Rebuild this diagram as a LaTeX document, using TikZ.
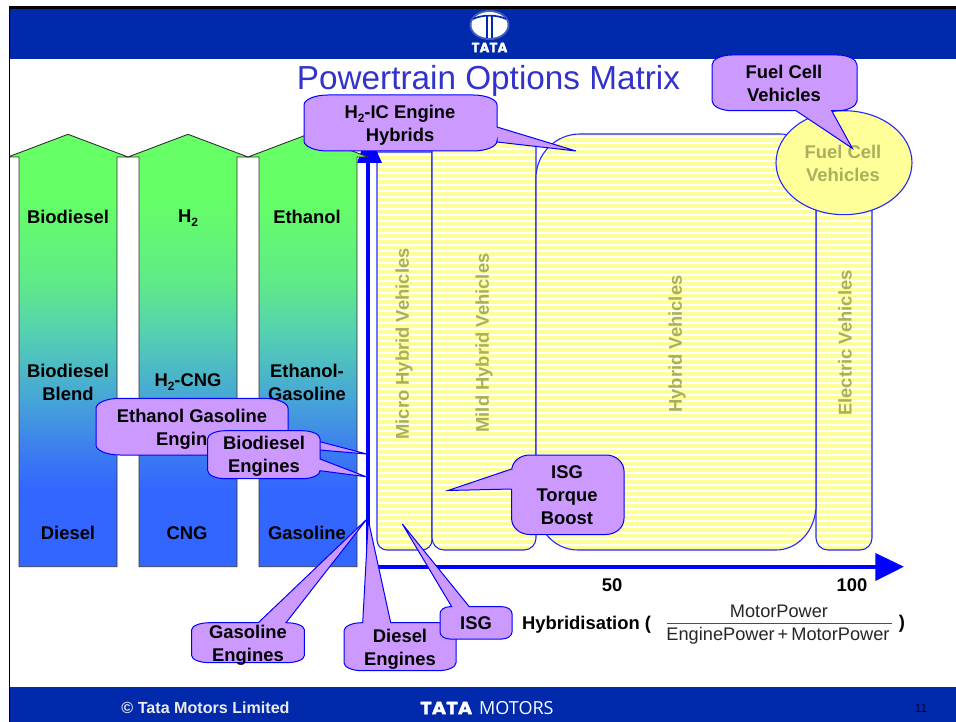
\documentclass[tikz,border=0pt]{standalone}
\usepackage{fontspec}
\setmainfont{Liberation Sans}
\newfontfamily\logofont[BoldFeatures={FakeBold=1.5}]{Poppins}
\newfontfamily\motorsfont{Open Sans}
\usetikzlibrary{shapes.geometric}
\definecolor{tatablue}{RGB}{0,41,172}
\definecolor{yel}{RGB}{255,255,153}
\definecolor{lil}{RGB}{204,153,255}
\definecolor{olive}{RGB}{168,176,92}
\definecolor{titleblue}{RGB}{51,51,204}
\definecolor{axisblue}{RGB}{0,0,255}
\definecolor{gA}{RGB}{102,255,102}
\definecolor{gB}{RGB}{51,102,255}
\definecolor{gC}{RGB}{95,235,135}
\definecolor{gD}{RGB}{85,210,175}
\definecolor{gE}{RGB}{70,165,215}
\definecolor{gF}{RGB}{60,125,240}
\pgfdeclareverticalshading{fuelgrad}{100bp}{color(0bp)=(gB); color(33.9bp)=(gB); color(38.5bp)=(gF); color(44.3bp)=(gE); color(52.4bp)=(gD); color(58.1bp)=(gC); color(67.7bp)=(gA); color(100bp)=(gA)}
\newcommand\subtwo{\raisebox{-4.5pt}{\fontsize{12}{12}\selectfont 2}}
\tikzset{
  x=1pt,y=-1pt,
  bub/.style={draw=axisblue,line width=1pt,fill=lil,line join=miter},
  lab/.style={font=\fontsize{18.4}{23}\selectfont\bfseries,align=center,inner sep=0pt},
  plain/.style={font=\fontsize{18.2}{23}\selectfont,align=center,inner sep=0pt,text=black!85},
  soft/.style={lab,text=olive},
  fuel/.style={shading=fuelgrad,draw=black!80,line width=.9pt},
  zone/.style={draw=axisblue!85!white,line width=1.1pt},
}
\newcommand\bubble[9]{%
  \draw[bub] (#1+#5,#2) #7 -- (#3-#5,#2)
    arc[start angle=270,end angle=360,x radius=#5,y radius=#6] #8 -- (#3,#4-#6)
    arc[start angle=0,end angle=90,x radius=#5,y radius=#6] #9 -- (#1+#5,#4)
    arc[start angle=90,end angle=180,x radius=#5,y radius=#6] -- (#1,#2+#6)
    arc[start angle=180,end angle=270,x radius=#5,y radius=#6] -- cycle;}
\newcommand\zonebox[1]{%
  \fill[yel] #1;
  \begin{scope}
    \clip #1;
    \foreach \yy in {0,...,72}{\draw[white,line width=1.5pt] (370,131+6*\yy) -- (880,131+6*\yy);}
  \end{scope}
  \draw[zone] #1;}
\newcommand\fuelarrow[1]{%
  \path[fuel] (#1-49,566.7) -- (#1-49,157) -- (#1-60,157) -- (#1,134.3) -- (#1+60,157) -- (#1+49,157) -- (#1+49,566.7) -- cycle;}
\begin{document}
\begin{tikzpicture}
\useasboundingbox (0,0) rectangle (956,722);
\fill[white] (0,0) rectangle (956,722);
% bands
\fill[tatablue] (9,7) rectangle (956,59);
\fill[tatablue] (9,687) rectangle (956,722);
% logo
\fill[white,opacity=.25] (489.5,25) ellipse[x radius=20,y radius=15];
\fill[white] (489.5,25) ellipse[x radius=18,y radius=13];
\draw[tatablue,line width=1.7pt] (473,19) .. controls (482,14.5) and (497,14.5) .. (506,19);
\fill[tatablue] (485.8,16) rectangle (487.6,38);
\fill[tatablue] (491.4,16) rectangle (493.2,38);
\node[inner sep=0pt,text=white,font=\logofont\fontsize{13.5}{14}\selectfont\bfseries] (logotext) at (489.5,47.5) {TATA};
% title
\node[inner sep=0pt,text=titleblue,font=\fontsize{33.3}{38}\selectfont] (title) at (488.5,81) {Powertrain Options Matrix};
% zones
\zonebox{(377,152) -- (432,152) -- (432,540) arc[start angle=0,end angle=90,radius=10] -- (387,550) arc[start angle=90,end angle=180,radius=10] -- cycle}
\zonebox{(432,140) -- (536,140) -- (536,538) arc[start angle=0,end angle=90,radius=12] -- (444,550) arc[start angle=90,end angle=180,radius=12] -- cycle}
\zonebox{(816,140) -- (872,140) -- (872,538) arc[start angle=0,end angle=90,radius=12] -- (828,550) arc[start angle=90,end angle=180,radius=12] -- cycle}
\zonebox{(580,134) -- (780,134) arc[start angle=270,end angle=360,x radius=36,y radius=36] -- (816,505) arc[start angle=0,end angle=90,x radius=40,y radius=45] -- (578,550) arc[start angle=90,end angle=180,x radius=42,y radius=45] -- (536,178) arc[start angle=180,end angle=270,x radius=44,y radius=44] -- cycle}
\node[soft,rotate=90] (micro) at (404,344) {Micro Hybrid Vehicles};
\node[soft,rotate=90] (mild) at (484,343) {Mild Hybrid Vehicles};
\node[soft,rotate=90] (hybrid) at (677,344) {Hybrid Vehicles};
\node[soft,rotate=90] (electric) at (845,343) {Electric Vehicles};
\draw[zone,fill=yel] (844,162.7) ellipse[x radius=68,y radius=52];
\node[soft] (fcv) at (843,163) {Fuel Cell\\Vehicles};
% axes
\coordinate (origin) at (368,566.7);
\coordinate (ytip) at (368,132);
\coordinate (xtip) at (903.8,566.7);
\draw[axisblue,line width=3.6pt] (origin) -- (368,160);
\draw[axisblue,line width=4pt] (366,566.7) -- (878,566.7);
\fill[axisblue] (357,163) -- (ytip) -- (382,163) -- cycle;
\fill[axisblue] (875.4,553) -- (xtip) -- (875.4,581) -- cycle;
% fuel arrows
\fuelarrow{68}
\fuelarrow{188}
\fuelarrow{308}
% frame
\fill[white] (0,0) rectangle (8.6,722);
\fill[black] (8.6,6) rectangle (956,9);
\fill[black] (8.6,6) rectangle (10.4,722);
% fuel labels
\node[lab] (f1) at (68,217) {Biodiesel};
\node[lab] (f2) at (188,218) {H\subtwo};
\node[lab] (f3) at (307,217) {Ethanol};
\node[lab] (f4) at (68,382) {Biodiesel\\Blend};
\node[lab] (f5) at (188,382) {H\subtwo-CNG};
\node[lab] (f6) at (307,382) {Ethanol-\\Gasoline};
\node[lab] (f7) at (68,533) {Diesel};
\node[lab] (f8) at (187,533) {CNG};
\node[lab] (f9) at (307,533) {Gasoline};
\node[lab] (t50) at (612,585) {50};
\node[lab] (t100) at (852,585) {100};
\node[lab,anchor=west] (hyb) at (522,625) {Hybridisation (};
\node[plain] (num) at (779,611) {MotorPower};
\node[plain] (den) at (778,636) {EnginePower\,+\,MotorPower};
\draw[black!70,line width=1pt] (667,623.3) -- (892,623.3);
\node[lab] (close) at (902,624) {)};
% callouts
\bubble{304}{95}{497}{151}{24}{10}{}{-- (497,127) -- (576,151) -- (497,142)}{}
\node[lab] (c1) at (400,125) {H\subtwo-IC Engine\\Hybrids};
\bubble{712}{55}{857}{110.7}{20}{10}{}{}{-- (831.7,110.7) -- (852.3,148.3) -- (796,110.7)}
\node[lab] (c2) at (784,83) {Fuel Cell\\Vehicles};
\bubble{96}{398.3}{288}{455}{24}{10}{}{-- (288,433.3) -- (366.7,454) -- (288,447.3)}{}
\node[lab] (c3) at (192,429) {Ethanol Gasoline\\Engines};
\bubble{207.7}{430.7}{320}{478.7}{18}{8}{}{-- (320,459) -- (366,476.7) -- (320,470.7)}{}
\node[lab] (c4) at (264,456) {Biodiesel\\Engines};
\bubble{191.7}{622.7}{304.3}{662.7}{18}{7}{-- (258.3,622.7) -- (366.7,519.3) -- (286,622.7)}{}{}
\node[lab] (c5) at (248,645) {Gasoline\\Engines};
\bubble{344}{622.7}{456}{670.7}{18}{8}{-- (362.7,622.7) -- (368.3,520) -- (390.7,622.7)}{}{}
\node[lab] (c6) at (400,649) {Diesel\\Engines};
\bubble{440}{606.7}{512}{639}{10}{7}{-- (451.7,606.7) -- (402.3,524) -- (469.3,606.7)}{}{}
\node[lab] (c7) at (476,623) {ISG};
\bubble{511.6}{455}{624}{534.5}{18}{16}{}{}{}
\fill[lil] (510,469.6) rectangle (513,489);
\draw[bub] (511.6,469) -- (448,490.5) -- (511.6,489);
\node[lab] (c8) at (567,495) {ISG\\Torque\\Boost};
% footer
\node[inner sep=0pt,text=white!92!black,font=\fontsize{16.1}{18}\selectfont\bfseries] (foot) at (205.5,708) {© Tata Motors Limited};
\node[inner sep=0pt,anchor=west,text=white,xscale=1.12,font=\logofont\fontsize{17.5}{19}\selectfont\bfseries] (tm1) at (420,708) {TATA};
\node[inner sep=0pt,anchor=west,text=white,font=\motorsfont\fontsize{18}{19}\selectfont] (tm2) at (479,708) {MOTORS};
\node[inner sep=0pt,text=black!80!blue,font=\fontsize{12}{14}\selectfont] (page) at (921,708.5) {11};
\end{tikzpicture}
\end{document}
